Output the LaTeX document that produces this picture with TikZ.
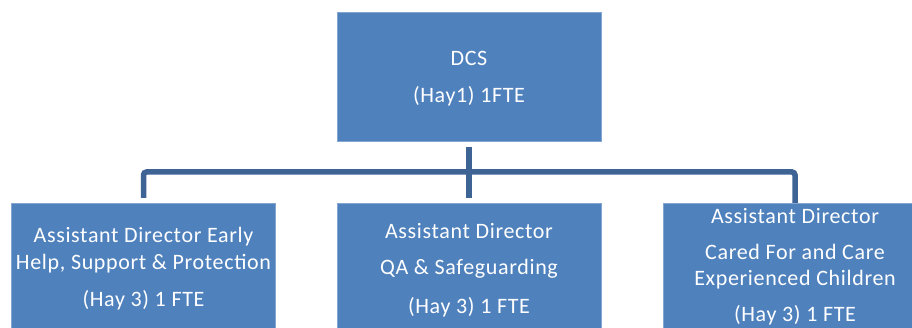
\documentclass[tikz,border=0pt]{standalone}
\usepackage{fontspec}
\setmainfont{Carlito}[LetterSpace=3]
\definecolor{boxfill}{RGB}{79,129,189}
\definecolor{boxedge}{RGB}{130,165,210}
\definecolor{linkcol}{RGB}{62,100,150}
\tikzset{
  post/.style={rectangle, fill=boxfill, draw=boxedge, line width=0.8pt,
    minimum width=264pt, inner sep=0pt, anchor=north},
  txt/.style={anchor=base, text=white, font=\fontsize{22}{25}\selectfont, inner sep=0pt},
  link/.style={draw=linkcol, line width=5.5pt, rounded corners=3pt}
}
\begin{document}
\begin{tikzpicture}[x=1pt,y=-1pt]
\useasboundingbox (0,0) rectangle (912,328);
\clip (0,0) rectangle (912,328);
% boxes
\node[post, minimum height=129pt] (dcs) at (469,12) {};
\node[post, minimum height=160pt] (ade) at (143.5,203) {};
\node[post, minimum height=160pt] (adq) at (469,203) {};
\node[post, minimum height=160pt] (adc) at (795,203) {};
% connectors
\coordinate (hub) at (469,172);
\draw[link, shorten <=5pt, shorten >=5pt] (dcs.south) -- (adq.north);
\draw[link, shorten >=5pt] (ade.north) ++(0,-5) -- (ade.north |- hub) -- (adc.north |- hub) -- ([yshift=-5pt]adc.north);
% top box text
\node[txt] at (469,66) {DCS};
\node[txt] at (469,103) {(Hay1) 1FTE};
% left box text
\node[txt] at (143.5,243) {Assistant Director Early};
\node[txt] at (143.5,270) {Help, Support \& Protection};
\node[txt] at (143.5,307) {(Hay 3) 1 FTE};
% middle box text
\node[txt] at (469,239) {Assistant Director};
\node[txt] at (469,275) {QA \& Safeguarding};
\node[txt] at (469,313) {(Hay 3) 1 FTE};
% right box text
\node[txt] at (795,224) {Assistant Director};
\node[txt] at (795,260) {Cared For and Care};
\node[txt] at (795,286) {Experienced Children};
\node[txt] at (795,321) {(Hay 3) 1 FTE};
\end{tikzpicture}
\end{document}
